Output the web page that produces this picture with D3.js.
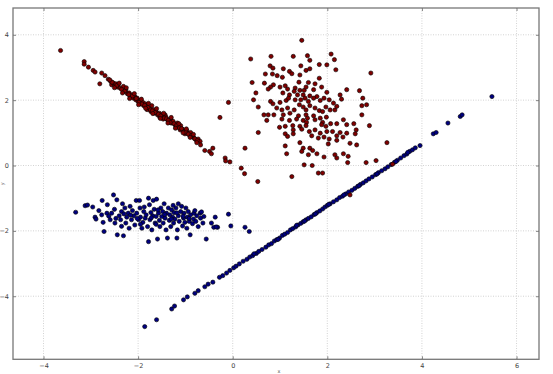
<!DOCTYPE html>
<html><head><meta charset="utf-8">
<script src="https://cdn.jsdelivr.net/npm/d3@7"></script>
<style>body{margin:0;background:#fff}svg{display:block}</style>
</head><body>
<script>
const xTicks = [-4,-2,0,2,4,6];
const yTicks = [-4,-2,0,2,4];
// red diagonal cluster
const redLine = [[-3.64,3.52],[-3.14,3.18],[-3.14,3.10],[-3.05,3.01],[-2.95,2.91],[-2.91,2.86],[-2.81,2.50],[-2.77,2.83],[-2.70,2.75],[-2.63,2.64],[-2.58,2.57],[-2.56,2.47],[-2.52,2.52],[-2.49,2.44],[-2.47,2.50],[-2.44,2.40],[-2.42,2.47],[-2.38,2.37],[-2.31,2.42],[-2.30,2.27],[-2.26,2.32],[-2.23,2.20],[-2.19,2.22],[-2.16,2.11],[-2.14,2.16],[-2.10,2.06],[-2.07,2.11],[-2.05,2.01],[-2.02,2.06],[-2.00,1.96],[-1.96,1.99],[-1.95,1.89],[-1.90,1.93],[-1.88,1.83],[-1.85,1.89],[-1.82,1.81],[-1.81,1.71],[-1.76,1.76],[-1.73,1.65],[-1.71,1.83],[-1.68,1.71],[-1.66,1.60],[-1.62,1.65],[-1.59,1.55],[-1.55,1.60],[-1.54,1.48],[-1.50,1.55],[-1.47,1.42],[-1.43,1.55],[-1.41,1.48],[-1.38,1.40],[-1.34,1.35],[-1.31,1.42],[-1.29,1.30],[-1.26,1.35],[-1.22,1.25],[-1.20,1.18],[-1.17,1.30],[-1.15,1.18],[-1.11,1.09],[-1.10,1.22],[-1.06,1.11],[-1.03,1.04],[-1.01,0.97],[-0.97,1.07],[-0.96,0.99],[-0.92,0.94],[-0.89,1.01],[-0.85,0.89],[-0.82,0.84],[-0.78,0.79],[-0.73,0.81],[-0.69,0.74],[-0.68,0.63],[-0.59,0.46],[-0.49,0.43],[-0.42,0.53],[-0.45,0.36],[-0.27,1.47],[-0.09,1.93],[-0.16,0.23],[-0.15,0.14],[-0.06,0.11],
[-2.55,2.55],[-2.45,2.45],[-2.35,2.33],[-2.28,2.28],[-2.20,2.17],[-2.12,2.13],[-2.04,2.05],[-1.98,1.93],[-1.92,1.88],[-1.86,1.84],[-1.79,1.78],[-1.74,1.70],[-1.70,1.67],[-1.64,1.62],[-1.57,1.57],[-1.52,1.52],[-1.45,1.45],[-1.40,1.43],[-1.36,1.38],[-1.32,1.31],[-1.24,1.28],[-1.19,1.22],[-1.13,1.15],[-1.08,1.13],[-1.00,1.02],[-0.94,0.96],[-0.87,0.92],[-0.80,0.82],[-0.75,0.76],
[-2.60,2.62],[-2.50,2.38],[-2.40,2.52],[-2.33,2.22],[-2.25,2.38],[-2.18,2.05],[-2.08,2.20],[-1.99,1.86],[-1.93,2.03],[-1.84,1.75],[-1.78,1.90],[-1.69,1.59],[-1.61,1.74],[-1.53,1.44],[-1.46,1.60],[-1.37,1.30],[-1.30,1.47],[-1.21,1.14],[-1.14,1.28],[-1.05,1.00],[-0.98,1.12],[-0.90,0.86],[-0.83,0.95],[-0.76,0.70]];
// red blob cluster
const redBlob = [[1.46,3.83],[0.38,3.26],[0.81,3.34],[1.28,3.34],[1.58,3.36],[2.08,3.41],[2.15,3.24],[1.63,3.22],[1.83,3.09],[1.99,3.08],[1.44,3.05],[0.79,3.05],[0.85,2.98],[1.07,2.96],[1.20,2.88],[1.25,2.81],[2.18,2.93],[1.55,2.91],[1.63,2.96],[0.69,2.80],[0.84,2.80],[0.94,2.75],[1.05,2.70],[1.42,2.77],[1.83,2.67],[2.92,2.83],[0.41,2.54],[0.67,2.52],[0.86,2.47],[0.80,2.40],[0.75,2.34],[1.00,2.40],[1.11,2.44],[1.16,2.34],[1.32,2.37],[1.40,2.55],[1.60,2.54],[1.74,2.50],[1.88,2.40],[1.30,2.27],[1.42,2.30],[1.51,2.30],[1.55,2.40],[1.71,2.32],[0.49,2.22],[1.06,2.22],[1.20,2.16],[1.37,2.16],[1.49,2.16],[1.63,2.13],[1.78,2.11],[1.99,2.24],[2.27,2.16],[2.41,2.32],[2.68,2.29],[0.44,2.01],[0.80,1.96],[0.85,1.89],[1.00,1.93],[1.13,1.99],[1.18,2.06],[1.32,2.01],[1.44,2.01],[1.53,2.06],[1.60,1.96],[1.71,2.06],[1.85,1.99],[1.93,2.06],[2.04,2.01],[2.13,1.91],[2.30,2.03],[2.75,2.06],[0.54,1.79],[0.93,1.76],[1.04,1.70],[1.16,1.76],[1.30,1.70],[1.41,1.86],[1.49,1.79],[1.55,1.70],[1.63,1.83],[1.74,1.76],[1.83,1.68],[1.90,1.65],[1.97,1.79],[2.06,1.70],[2.16,1.70],[2.20,1.81],[2.73,1.83],[2.83,1.86],[0.66,1.55],[0.75,1.55],[0.87,1.55],[1.07,1.55],[1.21,1.60],[1.39,1.52],[1.55,1.55],[1.58,1.45],[1.71,1.52],[1.85,1.45],[2.73,1.55],[0.72,1.38],[1.04,1.42],[1.20,1.38],[1.35,1.42],[1.49,1.38],[1.56,1.32],[1.74,1.40],[1.90,1.32],[1.98,1.48],[2.34,1.40],[0.99,1.17],[1.11,1.20],[1.27,1.22],[1.42,1.20],[1.55,1.22],[1.88,1.25],[1.97,1.20],[2.07,1.28],[2.20,1.28],[2.41,1.25],[2.56,1.28],[2.89,1.22],[1.28,1.09],[1.46,1.11],[1.62,1.04],[1.74,1.09],[1.85,0.99],[1.99,1.04],[2.11,1.04],[2.27,1.01],[2.41,0.99],[2.61,1.09],[0.54,1.01],[1.11,0.97],[1.16,0.89],[1.28,0.97],[1.67,0.91],[1.81,0.84],[1.93,0.87],[2.04,0.81],[2.20,0.91],[2.33,0.87],[2.59,0.97],[1.42,0.70],[1.11,0.60],[2.02,0.66],[2.20,0.77],[2.48,0.68],[2.62,0.63],[1.49,0.53],[1.63,0.53],[1.69,0.46],[1.46,0.43],[1.60,0.33],[1.78,0.36],[1.93,0.26],[2.16,0.33],[2.20,0.23],[2.34,0.36],[2.44,0.28],[2.43,0.09],[1.14,0.36],[0.26,0.53],[1.51,0.02],[1.68,0.00],[1.81,-0.23],[1.90,-0.23],[1.25,-0.34],[2.82,0.09],[3.03,0.15],[0.18,-0.08],[0.25,-0.25],[0.53,-0.49],[3.26,0.70],[3.38,0.04],[2.48,-0.90]];
// blue blob cluster
const blueBlob = [[-3.32,-1.43],[-3.12,-1.23],[-3.07,-1.21],[-2.96,-1.27],[-2.91,-1.58],[-2.89,-1.64],[-2.76,-1.07],[-2.77,-1.51],[-2.74,-1.74],[-2.72,-2.02],[-2.66,-1.46],[-2.65,-1.20],[-2.59,-1.66],[-2.56,-1.46],[-2.52,-0.90],[-2.50,-1.34],[-2.49,-1.76],[-2.45,-1.05],[-2.44,-2.12],[-2.40,-1.54],[-2.37,-1.66],[-2.35,-1.41],[-2.33,-1.17],[-2.31,-2.15],[-2.28,-1.30],[-2.26,-1.76],[-2.24,-1.58],[-2.21,-1.46],[-2.19,-1.92],[-2.17,-1.25],[-2.14,-1.66],[-2.12,-1.38],[-2.09,-1.54],[-2.07,-1.82],[-2.04,-1.07],[-2.03,-1.46],[-1.99,-1.66],[-1.97,-1.07],[-1.96,-1.30],[-1.95,-1.58],[-1.92,-1.92],[-1.90,-1.74],[-1.88,-1.41],[-1.85,-1.61],[-1.83,-1.51],[-1.80,-1.87],[-1.78,-1.00],[-1.78,-2.33],[-1.76,-1.20],[-1.75,-1.66],[-1.73,-1.44],[-1.71,-1.97],[-1.69,-1.54],[-1.68,-1.07],[-1.66,-1.34],[-1.64,-1.76],[-1.62,-1.56],[-1.61,-1.03],[-1.59,-2.25],[-1.57,-1.46],[-1.55,-1.68],[-1.54,-1.87],[-1.52,-1.30],[-1.50,-1.56],[-1.48,-1.41],[-1.47,-1.76],[-1.45,-1.17],[-1.43,-1.61],[-1.41,-1.97],[-1.40,-1.46],[-1.38,-2.22],[-1.36,-1.30],[-1.34,-1.68],[-1.33,-1.51],[-1.31,-1.87],[-1.29,-1.36],[-1.27,-1.58],[-1.25,-1.76],[-1.24,-1.44],[-1.22,-1.64],[-1.20,-1.30],[-1.18,-2.22],[-1.17,-1.97],[-1.15,-1.17],[-1.15,-1.54],[-1.13,-1.71],[-1.10,-1.41],[-1.08,-1.25],[-1.06,-1.85],[-1.04,-1.61],[-1.03,-1.46],[-1.01,-1.74],[-0.99,-1.30],[-0.97,-1.92],[-0.96,-1.58],[-0.94,-1.41],[-0.92,-1.71],[-0.90,-2.12],[-0.89,-1.51],[-0.85,-1.78],[-0.83,-1.64],[-0.82,-1.46],[-0.78,-1.71],[-0.76,-1.54],[-0.73,-1.87],[-0.69,-1.46],[-0.68,-1.61],[-0.63,-1.76],[-0.61,-1.56],[-0.56,-2.25],[-0.45,-1.76],[-0.40,-1.89],[-0.37,-1.58],[-0.32,-1.89],[-0.09,-1.49],[-0.04,-1.85],[0.26,-1.89],[0.35,-2.02],[-0.35,-1.88],
[-2.62,-1.55],[-2.47,-1.62],[-2.30,-1.48],[-2.16,-1.52],[-2.02,-1.62],[-1.87,-1.27],[-1.72,-1.60],[-1.58,-1.36],[-1.44,-1.50],[-1.30,-1.64],[-1.18,-1.45],[-1.05,-1.55],[-0.92,-1.62],[-0.80,-1.38],[-1.62,-1.80],[-1.95,-1.80],[-2.35,-1.86],[-1.26,-1.22],[-0.66,-1.42],[-2.83,-1.38]];
// blue diagonal cluster
const blueLine = [[-1.86,-4.93],[-1.61,-4.72],[-1.29,-4.39],[-1.23,-4.30],[-1.04,-4.11],[-0.96,-4.02],[-0.80,-3.91],[-0.73,-3.83],[-0.59,-3.71],[-0.52,-3.63],[-0.42,-3.57],[-0.28,-3.42],[-0.21,-3.37],[-0.13,-3.29],[-0.06,-3.21],[0.02,-3.13],[0.07,-3.08],[0.14,-3.01],[0.22,-2.93],[0.30,-2.87],[0.36,-2.80],[0.42,-2.76],[0.50,-2.69],[0.55,-2.63],[0.62,-2.57],[0.70,-2.50],[0.76,-2.43],[0.82,-2.39],[0.88,-2.31],[0.93,-2.27],[0.99,-2.22],[1.05,-2.14],[1.10,-2.10],[1.16,-2.05],[1.22,-1.97],[1.27,-1.93],[1.33,-1.88],[1.38,-1.82],[1.44,-1.77],[1.49,-1.72],[1.55,-1.66],[1.60,-1.62],[1.66,-1.57],[1.72,-1.50],[1.78,-1.44],[1.84,-1.39],[1.90,-1.33],[1.95,-1.27],[2.00,-1.22],[2.06,-1.17],[2.13,-1.11],[2.20,-1.05],[2.26,-0.98],[2.32,-0.94],[2.39,-0.87],[2.45,-0.81],[2.52,-0.76],[2.58,-0.70],[2.64,-0.64],[2.70,-0.58],[2.76,-0.53],[2.82,-0.47],[2.88,-0.41],[2.95,-0.35],[3.02,-0.28],[3.08,-0.22],[3.15,-0.16],[3.22,-0.10],[3.28,-0.04],[3.35,0.03],[3.42,0.10],[3.48,0.16],[3.55,0.23],[3.62,0.30],[3.68,0.35],[3.74,0.43],[3.80,0.48],[3.86,0.54],[3.96,0.61],[4.24,0.97],[4.30,1.01],[4.55,1.30],[4.81,1.50],[4.85,1.55],[5.48,2.11],
[0.45,-2.70],[0.96,-2.26],[1.35,-1.83],[1.52,-1.70],[1.75,-1.48],[2.03,-1.19],[2.35,-0.90],[2.67,-0.62],[3.05,-0.26],[3.45,0.12],[3.70,0.40]];

const W = 553, H = 374;
const L = 13, T = 8, R = 539, B = 359.3;
const svg = d3.select("body").append("svg").attr("width", W).attr("height", H);
const x = d3.scaleLinear().domain([-4.645, 6.475]).range([L, R]);
const y = d3.scaleLinear().domain([-5.93, 4.82]).range([B, T]);

// grid
const g = svg.append("g");
g.selectAll(".gx").data(xTicks).enter().append("line")
  .attr("x1", d => x(d)).attr("x2", d => x(d)).attr("y1", T).attr("y2", B)
  .attr("stroke", "#c8c8c8").attr("stroke-width", 0.8).attr("stroke-dasharray", "1,1.5");
g.selectAll(".gy").data(yTicks).enter().append("line")
  .attr("y1", d => y(d)).attr("y2", d => y(d)).attr("x1", L).attr("x2", R)
  .attr("stroke", "#c8c8c8").attr("stroke-width", 0.8).attr("stroke-dasharray", "1,1.5");

// points
function draw(data, fill) {
  svg.append("g").selectAll("circle").data(data).enter().append("circle")
    .attr("cx", d => x(d[0])).attr("cy", d => y(d[1])).attr("r", 2.1)
    .attr("fill", fill).attr("stroke", "#000").attr("stroke-width", 0.6);
}
draw(blueLine, "#000080");
draw(blueBlob, "#000080");
draw(redBlob, "#800000");
draw(redLine, "#800000");

// axes with inward ticks
const fmt = d => d < 0 ? "\u2212" + Math.abs(d) : String(d);
const xb = svg.append("g").attr("transform", `translate(0,${B})`)
  .call(d3.axisBottom(x).tickValues(xTicks).tickSize(-3).tickPadding(4).tickFormat(fmt));
const xt = svg.append("g").attr("transform", `translate(0,${T})`)
  .call(d3.axisTop(x).tickValues(xTicks).tickSize(-3).tickFormat(""));
const yl = svg.append("g").attr("transform", `translate(${L},0)`)
  .call(d3.axisLeft(y).tickValues(yTicks).tickSize(-3).tickPadding(4).tickFormat(fmt));
const yr = svg.append("g").attr("transform", `translate(${R},0)`)
  .call(d3.axisRight(y).tickValues(yTicks).tickSize(-3).tickFormat(""));
[xb, xt, yl, yr].forEach(a => {
  a.select(".domain").remove();
  a.selectAll(".tick line").attr("stroke", "#666").attr("stroke-width", 0.8);
  a.selectAll("text").attr("font-family", "DejaVu Sans").attr("font-size", 6.5).attr("fill", "#444");
});

// frame
svg.append("rect").attr("x", L).attr("y", T).attr("width", R - L).attr("height", B - T)
  .attr("fill", "none").attr("stroke", "#777").attr("stroke-width", 1.3);

// axis labels
svg.append("text").attr("x", (L + R) / 2 + 3).attr("y", 373).attr("text-anchor", "middle")
  .attr("font-family", "DejaVu Sans").attr("font-size", 5).attr("fill", "#555").text("x");
svg.append("text").attr("transform", `translate(4,${(T + B) / 2 + 0}) rotate(-90)`).attr("text-anchor", "middle")
  .attr("font-family", "DejaVu Sans").attr("font-size", 5).attr("fill", "#555").text("y");
</script>
</body></html>
